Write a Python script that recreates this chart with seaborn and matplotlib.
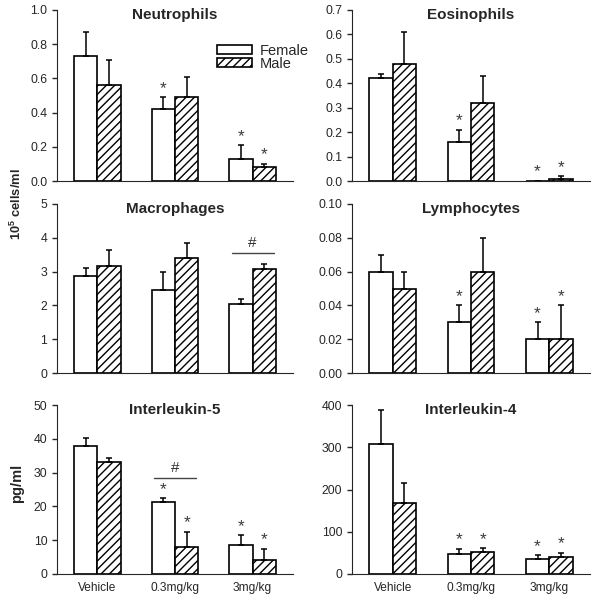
import pandas as pd
import seaborn as sns
import matplotlib.pyplot as plt
from matplotlib.patches import Patch

doses = ["Vehicle", "0.3mg/kg", "3mg/kg"]
sexes = ["Female", "Male"]

# mean values and upper error (SEM)
neut_f = [0.73, 0.42, 0.13]
neut_f_err = [0.14, 0.07, 0.08]
neut_m = [0.56, 0.49, 0.08]
neut_m_err = [0.15, 0.12, 0.02]

eos_f = [0.42, 0.16, 0.0]
eos_f_err = [0.02, 0.05, 0.0]
eos_m = [0.48, 0.32, 0.01]
eos_m_err = [0.13, 0.11, 0.01]

mac_f = [2.87, 2.47, 2.03]
mac_f_err = [0.25, 0.51, 0.17]
mac_m = [3.17, 3.39, 3.07]
mac_m_err = [0.46, 0.46, 0.15]

lym_f = [0.06, 0.03, 0.02]
lym_f_err = [0.01, 0.01, 0.01]
lym_m = [0.05, 0.06, 0.02]
lym_m_err = [0.01, 0.02, 0.02]

il5_f = [37.8, 21.3, 8.7]
il5_f_err = [2.5, 1.1, 2.7]
il5_m = [33.0, 7.9, 4.2]
il5_m_err = [1.2, 4.6, 3.2]

il4_f = [308, 48, 35]
il4_f_err = [79, 12, 9]
il4_m = [167, 52, 40]
il4_m_err = [49, 9, 10]

# significance marks: * vs vehicle, # female vs male (group index, y of line)
neut_star = [[0, 1, 1], [0, 0, 1]]
eos_star = [[0, 1, 1], [0, 0, 1]]
mac_star = [[0, 0, 0], [0, 0, 0]]
lym_star = [[0, 1, 1], [0, 0, 1]]
il5_star = [[0, 1, 1], [0, 1, 1]]
il4_star = [[0, 1, 1], [0, 1, 1]]
mac_hash = (2, 3.55)
il5_hash = (1, 28.5)

sns.set_style("ticks")
plt.rcParams["font.family"] = ["Liberation Sans", "DejaVu Sans"]
plt.rcParams["mathtext.fontset"] = "custom"
plt.rcParams["mathtext.bf"] = "Liberation Sans:bold"
plt.rcParams["hatch.linewidth"] = 1.0


def desenhar_painel(ax, titulo, fem, fem_err, mas, mas_err, estrelas, ymax, passo, fmt,
                    hash_info=None, rotulos_x=False):
    """Draws one grouped bar panel with upper error bars and marks."""
    df = pd.DataFrame({
        "dose": doses * 2,
        "sexo": [sexes[0]] * 3 + [sexes[1]] * 3,
        "valor": list(fem) + list(mas),
    })
    sns.barplot(data=df, x="dose", y="valor", hue="sexo", order=doses, hue_order=sexes,
                palette=["white", "white"], edgecolor="black", linewidth=1.2,
                width=0.6, saturation=1, errorbar=None, legend=False, ax=ax)
    for i, (cont, vals, errs) in enumerate(zip(ax.containers, [fem, mas], [fem_err, mas_err])):
        xs = [p.get_x() + p.get_width() / 2 for p in cont]
        if i == 1:
            for p in cont:
                p.set_hatch("////")
        ax.errorbar(xs, vals, yerr=[[0] * 3, errs], fmt="none", ecolor="black",
                    elinewidth=1.1, capsize=2.5, capthick=1.1, zorder=1)
        for x, v, e, s in zip(xs, vals, errs, estrelas[i]):
            if s:
                ax.annotate("*", (x, v + e), xytext=(0, 1), textcoords="offset points",
                            ha="center", va="bottom", fontsize=12.5, color="#3a3a3a")
    if hash_info is not None:
        g, yl = hash_info
        ax.plot([g - 0.27, g + 0.27], [yl, yl], color="#444444", lw=1)
        ax.annotate("#", (g, yl), xytext=(0, 2), textcoords="offset points",
                    ha="center", va="bottom", fontsize=11, color="#333333")
    ax.set_title(titulo, fontsize=11, fontweight="bold", y=0.9)
    ax.set_xlim(-0.52, 2.52)
    ax.set_ylim(0, ymax)
    ticks = [round(passo * k, 4) for k in range(int(round(ymax / passo)) + 1)]
    ax.set_yticks(ticks)
    ax.set_yticklabels([fmt.format(t) for t in ticks], fontsize=8.8)
    ax.set_xlabel("")
    ax.set_ylabel("")
    ax.tick_params(axis="x", length=0, labelsize=8.6, pad=6)
    ax.tick_params(axis="y", length=3.5, width=1, direction="out")
    if not rotulos_x:
        ax.set_xticklabels([])
    sns.despine(ax=ax)


fig = plt.figure(figsize=(6.0, 5.97), dpi=100)
lx, lw = 57 / 600, 236 / 600
rx, rw = 352 / 600, 238 / 600
linhas = [(1 - 181 / 597, 171 / 597), (1 - 373 / 597, 169 / 597), (1 - 574 / 597, 169 / 597)]

ax1 = fig.add_axes([lx, linhas[0][0], lw, linhas[0][1]])
ax2 = fig.add_axes([rx, linhas[0][0], rw, linhas[0][1]])
ax3 = fig.add_axes([lx, linhas[1][0], lw, linhas[1][1]])
ax4 = fig.add_axes([rx, linhas[1][0], rw, linhas[1][1]])
ax5 = fig.add_axes([lx, linhas[2][0], lw, linhas[2][1]])
ax6 = fig.add_axes([rx, linhas[2][0], rw, linhas[2][1]])

desenhar_painel(ax1, "Neutrophils", neut_f, neut_f_err, neut_m, neut_m_err, neut_star, 1.0, 0.2, "{:.1f}")
desenhar_painel(ax2, "Eosinophils", eos_f, eos_f_err, eos_m, eos_m_err, eos_star, 0.7, 0.1, "{:.1f}")
desenhar_painel(ax3, "Macrophages", mac_f, mac_f_err, mac_m, mac_m_err, mac_star, 5, 1, "{:.0f}",
                hash_info=mac_hash)
desenhar_painel(ax4, "Lymphocytes", lym_f, lym_f_err, lym_m, lym_m_err, lym_star, 0.10, 0.02, "{:.2f}")
desenhar_painel(ax5, "Interleukin-5", il5_f, il5_f_err, il5_m, il5_m_err, il5_star, 50, 10, "{:.0f}",
                hash_info=il5_hash, rotulos_x=True)
desenhar_painel(ax6, "Interleukin-4", il4_f, il4_f_err, il4_m, il4_m_err, il4_star, 400, 100, "{:.0f}",
                rotulos_x=True)

handles = [Patch(facecolor="white", edgecolor="black", linewidth=1.2, label="Female"),
           Patch(facecolor="white", edgecolor="black", linewidth=1.2, hatch="////", label="Male")]
ax1.legend(handles=handles, loc="upper left", bbox_to_anchor=(0.655, 0.835), frameon=False,
           fontsize=10.5, handlelength=2.4, handleheight=0.55, handletextpad=0.5,
           labelspacing=-0.1, borderaxespad=0)

fig.text(16 / 600, 1 - 204 / 597, r"$\mathbf{10^{5}}$ cells/ml", rotation=90, fontsize=9.3,
         fontweight="bold", ha="center", va="center")
fig.text(17 / 600, 1 - 483 / 597, "pg/ml", rotation=90, fontsize=10.5,
         fontweight="bold", ha="center", va="center")

fig.savefig("out.png", dpi=100)
